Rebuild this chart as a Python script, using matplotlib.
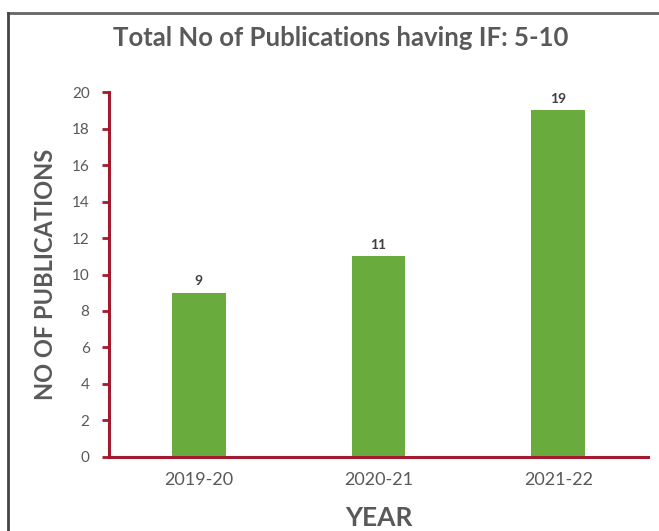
import matplotlib.pyplot as plt
from matplotlib.lines import Line2D

# data
years = ['2019-20', '2020-21', '2021-22']
counts = [9, 11, 19]
yticks = list(range(0, 21, 2))

plt.rcParams['font.family'] = ['Lato', 'DejaVu Sans']
red = '#a31a2e'
green = '#6aab3e'
grey = '#595959'

fig = plt.figure(figsize=(6.59, 5.31), dpi=100)
ax = fig.add_axes([0.1654, 0.1394, 0.8180, 0.6873])

x = range(len(years))
bars = ax.bar(x, counts, width=0.3, color=green, zorder=2)
for b, v in zip(bars, counts):
    ax.text(b.get_x() + b.get_width() / 2, v + 0.3, str(v), ha='center', va='bottom',
            fontsize=10, fontweight='bold', color='#404040')

ax.set_xlim(-0.5, 2.5)
ax.set_ylim(0, 20)
ax.set_yticks(yticks)
ax.set_xticks(list(x))
ax.set_xticklabels(years, fontsize=13, color=grey)
ax.tick_params(axis='y', colors=red, labelcolor=grey, labelsize=11, length=5, width=2,
               direction='out', pad=9)
ax.tick_params(axis='x', length=0, pad=11)

for s in ['top', 'right']:
    ax.spines[s].set_visible(False)
for s in ['left', 'bottom']:
    ax.spines[s].set_color(red)
    ax.spines[s].set_linewidth(2.2)

ax.set_ylabel('NO OF PUBLICATIONS', fontsize=17, fontweight='bold', color=grey, labelpad=11)
ax.set_xlabel('YEAR', fontsize=19, fontweight='bold', color=grey, labelpad=13)
fig.text(0.517, 0.928, 'Total No of Publications having IF: 5-10', ha='center', va='center',
         fontsize=18.5, fontweight='bold', color=grey)

# outer frame: top and left edges only
fig.add_artist(Line2D([8 / 659, 1], [1 - 13 / 531] * 2, transform=fig.transFigure,
                      color='#666666', linewidth=2))
fig.add_artist(Line2D([8 / 659] * 2, [0, 1 - 13 / 531], transform=fig.transFigure,
                      color='#444444', linewidth=2))

fig.savefig('out.png', dpi=100)
